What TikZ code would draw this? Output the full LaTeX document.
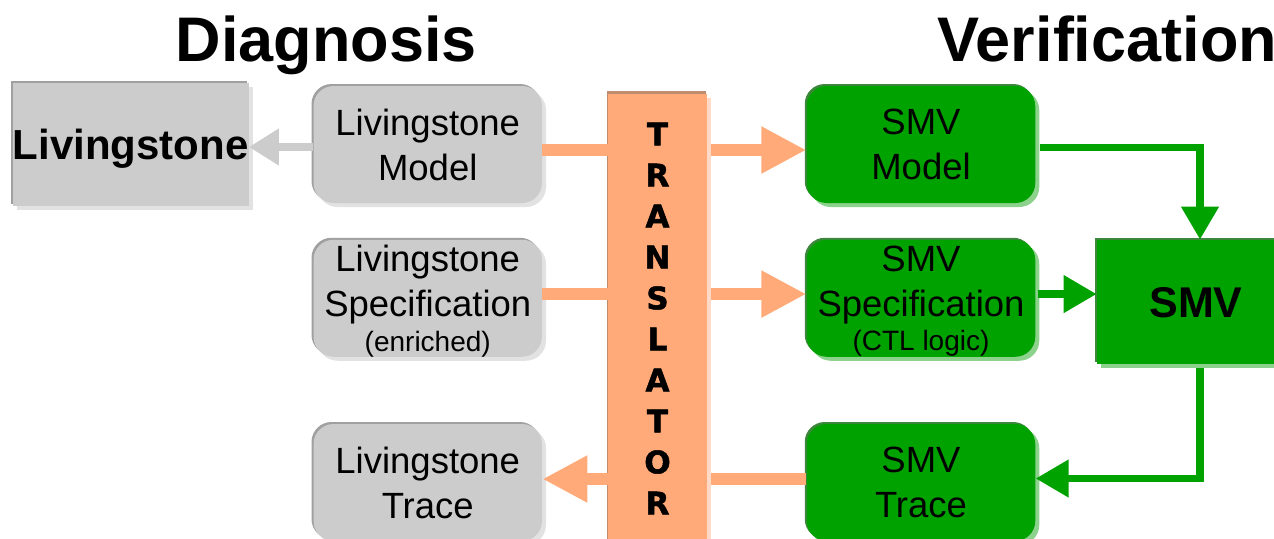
\documentclass[tikz,border=0pt]{standalone}
\usepackage{fontspec}
\setmainfont{Liberation Sans}
\newfontfamily\blk{DejaVu Sans Bold}[FakeBold=1.5]
\usetikzlibrary{arrows.meta,shadows}
\definecolor{lgray}{RGB}{204,204,204}
\definecolor{lgraydark}{RGB}{160,160,160}
\definecolor{lgraylight}{RGB}{226,226,226}
\definecolor{smvgreen}{RGB}{0,162,0}
\definecolor{greendark}{RGB}{60,135,60}
\definecolor{greenlight}{RGB}{140,210,140}
\definecolor{peach}{RGB}{255,170,120}
\definecolor{peachdark}{RGB}{192,140,112}
\definecolor{peachlight}{RGB}{255,218,198}
\tikzset{
  graybox/.style={fill=lgray, inner sep=0pt, align=center, text depth=0pt,
    general shadow={fill=lgraydark, shadow xshift=-1pt, shadow yshift=1pt},
    general shadow={fill=lgraylight, shadow xshift=2pt, shadow yshift=-2pt}},
  greenbox/.style={fill=smvgreen, inner sep=0pt, align=center, text depth=0pt,
    general shadow={fill=greendark, shadow xshift=-1pt, shadow yshift=1pt},
    general shadow={fill=greenlight, shadow xshift=2pt, shadow yshift=-2pt}},
  itembox/.style={rounded corners=10pt, minimum width=114.25pt, minimum height=58.5pt,
    font=\fontsize{18.25pt}{22.5pt}\selectfont},
  bigbox/.style={minimum width=114.5pt, minimum height=61.5pt,
    font=\bfseries\fontsize{21pt}{25pt}\selectfont},
  transbox/.style={fill=peach, inner sep=0pt, minimum width=49.5pt, minimum height=233pt,
    general shadow={fill=peachdark, shadow xshift=-0.75pt, shadow yshift=1.5pt},
    general shadow={fill=peachlight, shadow xshift=2pt, shadow yshift=-2pt}},
  title/.style={inner sep=0pt, anchor=base west, font=\bfseries\fontsize{31.5pt}{36pt}\selectfont},
  grayarrow/.style={draw=lgray, line width=4pt, -{Triangle[length=15pt,width=17.5pt]}},
  oline/.style={draw=peach, line width=5.75pt},
  oarrow/.style={draw=peach, line width=5.75pt, -{Triangle[length=22.5pt,width=22pt]}},
  garrow/.style={draw=smvgreen, line width=3.75pt, -{Triangle[length=16.5pt,width=18pt]}},
}
\newcommand{\smalltxt}{\fontsize{14pt}{17pt}\selectfont}
\begin{document}
\begin{tikzpicture}[x=0.5pt,y=-0.5pt]
\useasboundingbox (0,0) rectangle (1274,538);
\clip (0,0) rectangle (1274,538);

% titles
\node[title] (tdiag) at (175.5,61) {Diagnosis};
\node[title] (tver) at (937,61) {Verification};

% left column
\node[graybox,bigbox] (liv) at (130.7,144.5) {Livingstone};
\node[graybox,itembox] (lm) at (427.75,144.5) {Livingstone\\Model};
\node[graybox,itembox] (ls) at (427.75,298.25) {Livingstone\\Specification\\[-5.25pt]{\smalltxt (enriched)}};
\node[graybox,itembox] (lt) at (427.75,482.5) {Livingstone\\Trace};

% translator
\node[transbox] (tr) at (657.5,327) {};
\node[inner sep=0pt, align=center, font=\blk\fontsize{15.5pt}{20.5pt}\selectfont] (tlabel) at (657.5,318.5)
  {T\\R\\A\\N\\S\\L\\A\\T\\O\\R};

% right column
\node[greenbox,itembox] (sm) at (921,144.5) {SMV\\Model};
\node[greenbox,itembox] (ss) at (921,298.25) {SMV\\Specification\\[-5.25pt]{\smalltxt (CTL logic)}};
\node[greenbox,itembox] (st) at (921,482.5) {SMV\\Trace};
\node[greenbox, minimum width=99pt, minimum height=62pt, font=\bfseries\fontsize{21.5pt}{25pt}\selectfont] (smv) at (1196,302) {SMV};

% coordinates for connectors
\coordinate (g0) at ([yshift=-1.25pt]lm.west);
\coordinate (r1) at ([yshift=-2.75pt]lm.east);
\coordinate (r2) at ([yshift=2.1pt]ls.east);
\coordinate (r3) at ([yshift=1.75pt]st.west);
\coordinate (trR) at ([xshift=2pt]tr.east);
\coordinate (g1) at ([xshift=2pt,yshift=-1.5pt]sm.east);
\coordinate (smvtop) at ([xshift=2pt]smv.north);
\coordinate (g2) at ([xshift=1pt,yshift=2.1pt]ss.east);
\coordinate (smvbot) at ([xshift=2pt,yshift=-2pt]smv.south);
\coordinate (g3) at ([yshift=2pt]st.east);

% gray arrow
\draw[grayarrow] (g0) -- (g0 -| liv.east);

% orange connectors
\draw[oline] (r1) -- (r1 -| tr.west);
\draw[oarrow] (r1 -| trR) -- (r1 -| sm.west);
\draw[oline] (r2) -- (r2 -| tr.west);
\draw[oarrow] (r2 -| trR) -- (r2 -| ss.west);
\draw[oline] (r3) -- (r3 -| trR);
\draw[oarrow] (r3 -| tr.west) -- (r3 -| lt.east);

% green connectors
\draw[garrow] (g1) -| (smvtop);
\draw[garrow] (g2) -- (g2 -| smv.west);
\draw[garrow] (smvbot) |- (g3);
\end{tikzpicture}
\end{document}
